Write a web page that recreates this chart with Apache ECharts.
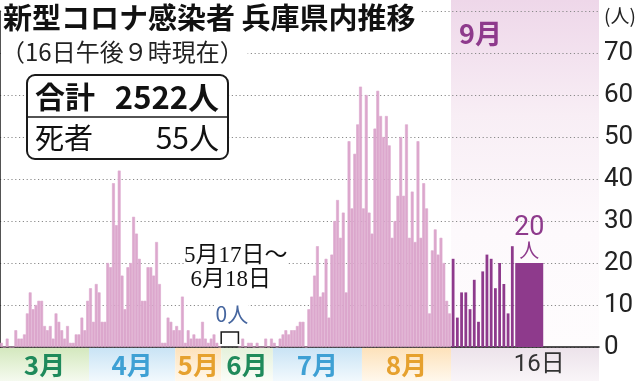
<!DOCTYPE html>
<html><head><meta charset="utf-8">
<script src="https://cdn.jsdelivr.net/npm/echarts@6/dist/echarts.min.js"></script>
<style>html,body{margin:0;padding:0;background:#fff}#c{width:639px;height:381px}</style>
</head><body><div id="c"></div>
<script>
// ---- data (daily new cases, Hyogo) ----
const marchCases = [1,0,2,0,0,4,2,2,3,8,13,9,10,11,11,5,4,5,2,8,6,4,2,5,1,1,3,3,7,4,11];
const aprilCases = [14,6,15,13,6,6,20,19,39,29,42,17,9,19,20,31,27,21,11,11,19,19,17,25,15,1,1,7,6,4];
const mayCases = [5,4,12,1,4,2,3,2,2,6,2,1,2,3,1,0];          // 5/1 - 5/16
const juneCases = [0,2,0,1,1,0,1,0,0,2,0,2];                   // 6/19 - 6/30
const julyCases = [1,0,2,3,4,3,4,4,5,6,6,0,9,12,17,24,12,13,21,7,22,30,35,26,32,13,49,33,46,53,62];
const augustCases = [33,60,32,27,52,61,55,50,55,48,26,30,36,50,36,53,26,37,25,49,26,39,33,8,23,28,22,26,20,11,8];
const septemberCases = [21,7,13,13,9,16,6,18,22,21,14,20,15,8,24]; // 9/1 - 9/15
const latestDay = '9/16';
const latestCases = 20;
const yTickLabels = ['0','10','20','30','40','50','60','70','(人)'];
const monthLabels = ['3月','4月','5月','6月','7月','8月'];
const septemberLabel = '9月';
const latestDayLabel = '16日';
const titleText = '新型コロナ感染者 兵庫県内推移';
const subtitleText = '（16日午後９時現在）';
const totalLabel = '合計';
const totalCases = '2522人';
const deathLabel = '死者';
const deathCases = '55人';
const zeroPeriodLines = ['5月17日～', '6月18日'];
const zeroPeriodValue = '0人';

// ---- categories ----
function days(m, from, to) { const a = []; for (let d = from; d <= to; d++) a.push(m + '/' + d); return a; }
const gapSlots = 6; // compressed zero period 5/17-6/18
const gapCats = Array.from({length: gapSlots}, (_, i) => 'zero' + i);
const cats1 = [].concat(days(3,1,31), days(4,1,30), days(5,1,16), gapCats, days(6,19,30), days(7,1,31), days(8,1,31));
const vals1 = [].concat(marchCases, aprilCases, mayCases, gapCats.map(() => null), juneCases, julyCases, augustCases);
const sepSlots = 35, latestIndex = 18;
const cats2 = Array.from({length: sepSlots}, (_, i) => i < septemberCases.length ? '9/' + (i + 1) : (i === latestIndex ? latestDay : 'pad' + i));
const vals2 = cats2.map((c, i) => i < septemberCases.length ? septemberCases[i] : null);
const vals3 = cats2.map(c => c === latestDay ? latestCases : null);

const NARROW = '"Liberation Sans Narrow", "Roboto", sans-serif';
const JP = '"Noto Sans CJK JP", sans-serif';
const PINK = '#dca7cd', PURPLE = '#8e3a8c';

const chart = echarts.init(document.getElementById('c'), null, {renderer: 'canvas'});
const option = {
  animation: false,
  grid: [
    {left: 0, right: 40, top: 11, bottom: 34},
    {left: 0, width: 451, top: 11, bottom: 34},
    {left: 451, right: 40, top: 11, bottom: 34}
  ],
  xAxis: [
    {gridIndex: 0, type: 'value', min: 0, max: 1, axisLine: {show: true, onZero: false, lineStyle: {color: '#1a1a1a', width: 1.5}}, axisTick: {show: false}, axisLabel: {show: false}, splitLine: {show: false}},
    {gridIndex: 1, type: 'category', data: cats1, show: false},
    {gridIndex: 2, type: 'category', data: cats2, show: false},
    {gridIndex: 2, type: 'category', data: cats2, show: false}
  ],
  yAxis: [
    {gridIndex: 0, type: 'value', position: 'right', min: 0, max: 80, interval: 10,
     axisLine: {show: true, lineStyle: {color: '#1a1a1a', width: 1.5}},
     axisTick: {show: true, inside: true, length: 4, lineStyle: {color: '#1a1a1a', width: 1}},
     splitLine: {show: true, lineStyle: {color: '#8a8a8a', width: 1, type: [1.2, 2.6]}},
     axisLabel: {margin: 5, color: '#222', fontFamily: NARROW, fontSize: 26,
       formatter: v => { const t = yTickLabels[Math.round(v / 10)]; return v === 80 ? '{u|' + t + '}' : t; },
       rich: {u: {fontFamily: JP, fontSize: 19, color: '#222', padding: [10, 0, 0, 0]}}}},
    {gridIndex: 1, type: 'value', min: 0, max: 80, show: false},
    {gridIndex: 2, type: 'value', min: 0, max: 80, show: false}
  ],
  series: [
    {type: 'bar', xAxisIndex: 1, yAxisIndex: 1, data: vals1, barCategoryGap: '0%', itemStyle: {color: PINK, borderColor: PINK, borderWidth: 0.6}},
    {type: 'bar', xAxisIndex: 2, yAxisIndex: 2, data: vals2, barCategoryGap: '34%', itemStyle: {color: PURPLE}},
    {type: 'bar', xAxisIndex: 3, yAxisIndex: 2, data: vals3, barWidth: 28, itemStyle: {color: PURPLE},
     label: {show: true, position: 'top', distance: 2, formatter: p => '{n|' + p.value + '}\n{u|人}',
       rich: {n: {fontFamily: NARROW, fontSize: 27, lineHeight: 23, color: PURPLE}, u: {fontFamily: JP, fontSize: 20, lineHeight: 21, color: PURPLE}}}}
  ]
};
chart.setOption(option);

// ---- decorations positioned through the axes ----
const px = (ax, i) => chart.convertToPixel({xAxisIndex: ax}, i);
const half1 = (px(1, 1) - px(1, 0)) / 2;
const half2 = (px(2, 1) - px(2, 0)) / 2;
const yBase = chart.convertToPixel({yAxisIndex: 0}, 0);
const xRight = chart.convertToPixel({xAxisIndex: 0}, 1);
const H = chart.getHeight();
const grad = (stops) => new echarts.graphic.LinearGradient(0, 0, 0, 1, stops.map((c, i) => ({offset: i / (stops.length - 1), color: c})));

const bandStyle = [
  {c: ['#d3e8bd', '#f5faef'], t: '#1f8a5b'},
  {c: ['#c8e3f5', '#f2f9fd'], t: '#3ea0d4'},
  {c: ['#fde1b9', '#fff8ec'], t: '#e6a12e'},
  {c: ['#e4f1da', '#fbfdf8'], t: '#1f8a5b'},
  {c: ['#c8e3f5', '#f2f9fd'], t: '#3ea0d4'},
  {c: ['#fde1b9', '#fff8ec'], t: '#e6a12e'}
];
const bandRanges = [['3/1','3/31'], ['4/1','4/30'], ['5/1','5/16'], ['zero0','6/30'], ['7/1','7/31'], ['8/1','8/31']];
const g = [];
// September shaded area
const sepLeft = px(2, 0) - half2;
g.push({type: 'rect', z: -10, shape: {x: sepLeft, y: 0, width: xRight - sepLeft, height: yBase}, style: {fill: grad(['#eed7e9', '#f8eef5', '#fdf9fc', '#fefcfd'])}});
g.push({type: 'rect', z: -10, shape: {x: sepLeft, y: yBase, width: xRight - sepLeft, height: H - yBase}, style: {fill: grad(['#ece2ea', '#f9f5f8'])}});
bandRanges.forEach((r, k) => {
  const a = px(1, cats1.indexOf(r[0])) - half1, b = px(1, cats1.indexOf(r[1])) + half1;
  g.push({type: 'rect', z: -10, shape: {x: a, y: yBase, width: b - a, height: H - yBase}, style: {fill: grad(bandStyle[k].c)}});
  g.push({type: 'text', z: 50, style: {text: monthLabels[k], x: (a + b) / 2, y: (yBase + H) / 2 + 1, textAlign: 'center', textVerticalAlign: 'middle', font: 'bold 26px ' + JP, fill: bandStyle[k].t}});
});
g.push({type: 'text', z: 50, style: {text: septemberLabel, x: sepLeft + 8, y: 20, font: 'bold 27px ' + JP, fill: PURPLE}});
g.push({type: 'text', z: 50, style: {text: latestDayLabel, x: px(3, latestIndex) + 10, y: (yBase + H) / 2 + 1, textAlign: 'center', textVerticalAlign: 'middle', font: '24px ' + NARROW.replace('sans-serif', '"Noto Sans CJK JP"'), fill: '#333'}});
// title / subtitle
g.push({type: 'text', z: 60, style: {text: titleText, x: 3, y: 3, font: 'bold 29px ' + JP, fill: '#111', backgroundColor: '#fff', padding: [0, 4, 0, 0]}});
g.push({type: 'text', z: 60, style: {text: subtitleText, x: 1, y: 40, font: '24px ' + JP, fill: '#222', backgroundColor: '#fff', padding: [0, 4, 0, 0]}});
// totals box
g.push({type: 'rect', z: 60, shape: {x: 27, y: 75, width: 201, height: 84, r: 8}, style: {fill: '#fff', stroke: '#1a1a1a', lineWidth: 2}});
g.push({type: 'line', z: 61, shape: {x1: 27, y1: 117, x2: 228, y2: 117}, style: {stroke: '#1a1a1a', lineWidth: 1.5}});
g.push({type: 'text', z: 62, style: {text: totalLabel, x: 35, y: 97, textVerticalAlign: 'middle', font: 'bold 30px ' + JP, fill: '#111'}});
g.push({type: 'text', z: 62, style: {text: totalCases, x: 219, y: 97, textAlign: 'right', textVerticalAlign: 'middle', font: 'bold 31px ' + JP, fill: '#111'}});
g.push({type: 'text', z: 62, style: {text: deathLabel, x: 35, y: 138, textVerticalAlign: 'middle', font: '29px ' + JP, fill: '#111'}});
g.push({type: 'text', z: 62, style: {text: deathCases, x: 219, y: 138, textAlign: 'right', textVerticalAlign: 'middle', font: '30px ' + JP, fill: '#111'}});
// zero period annotation
const gA = px(1, cats1.indexOf('zero0')) - half1, gB = px(1, cats1.indexOf('zero' + (gapSlots - 1))) + half1;
const gMid = (gA + gB) / 2;
g.push({type: 'text', z: 60, style: {text: zeroPeriodLines[0], x: gMid + 6, y: 256, textAlign: 'center', textVerticalAlign: 'middle', font: '23px "Liberation Serif", ' + JP, fill: '#111', backgroundColor: '#fff'}});
g.push({type: 'text', z: 60, style: {text: zeroPeriodLines[1], x: gMid + 1, y: 280, textAlign: 'center', textVerticalAlign: 'middle', font: '23px "Liberation Serif", ' + JP, fill: '#111', backgroundColor: '#fff'}});
g.push({type: 'text', z: 60, style: {text: zeroPeriodValue, x: gMid + 2, y: 314, textAlign: 'center', textVerticalAlign: 'middle', font: '21px ' + JP, fill: '#46669f', backgroundColor: '#fff'}});
g.push({type: 'polyline', z: 60, shape: {points: [[gA, yBase - 3], [gA, yBase - 15], [gB, yBase - 15], [gB, yBase - 3]]}, style: {stroke: '#1a1a1a', lineWidth: 1.5, fill: null}});
chart.setOption({graphic: {elements: g}});
</script></body></html>
